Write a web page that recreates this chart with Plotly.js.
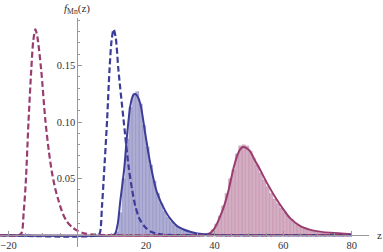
<!DOCTYPE html>
<html><head><meta charset="utf-8">
<script src="https://cdn.plot.ly/plotly-3.0.1.min.js"></script>
<style>html,body{margin:0;padding:0;background:#fff}#c{width:383px;height:252px}</style>
</head><body><div id="c"></div>
<script>
// Dashed curves
const dashPurpleX = [-22.5,-17,-16.2,-15.6,-15.0,-14.2,-13.4,-12.8,-12.2,-11.6,-10.5,-9.3,-8.3,-7.4,-6.4,-5.4,-4.2,-3,-1.5,0,2,5,10,80];
const dashPurpleY = [0,0,0.002,0.02,0.046,0.100,0.146,0.172,0.182,0.175,0.146,0.102,0.075,0.056,0.041,0.030,0.019,0.012,0.007,0.004,0.0015,0.0005,0,0];
const dashBlueX = [-22.5,6,6.6,7.2,7.7,8.7,9.4,10.0,10.6,11.2,12.0,13.5,15.0,16.0,16.9,18.2,19.8,21.5,23.2,26,30,80];
const dashBlueY = [0,0,0.002,0.025,0.049,0.102,0.146,0.172,0.182,0.175,0.146,0.102,0.060,0.040,0.026,0.014,0.007,0.003,0.0013,0.0003,0,0];
// Solid curves
const solidBlueX = [-22.5,10,11,11.8,12.5,13.7,14.5,15.5,16.2,16.8,17.5,18.4,19.8,21.3,23.2,25.7,27.5,29.1,31,32.9,35,38,42,80];
const solidBlueY = [0,0,0.001,0.01,0.029,0.059,0.088,0.115,0.123,0.125,0.123,0.116,0.090,0.063,0.038,0.021,0.013,0.008,0.005,0.003,0.0015,0.0005,0,0];
const solidPurpleX = [-22.5,36,38,38.8,39.8,40.7,41.7,42.7,44.1,45.6,46.7,47.5,48.3,49.3,50.4,51.6,52.9,55.3,58.2,60,62,65,68.9,73.8,80];
const solidPurpleY = [0,0,0.0008,0.002,0.005,0.010,0.017,0.025,0.040,0.060,0.071,0.076,0.078,0.077,0.074,0.067,0.060,0.046,0.031,0.023,0.015,0.008,0.004,0.002,0.0008];
// Histograms (bin left edges, heights)
const blueBins = [11,12,13,14,15,16,17,18,19,20,21,22,23,24,25,26,27,28,29,30,31,32,33,34];
const blueHeights = [0.003,0.02,0.05,0.085,0.113,0.125,0.127,0.116,0.097,0.078,0.062,0.048,0.037,0.028,0.021,0.016,0.012,0.009,0.007,0.005,0.004,0.003,0.002,0.001];
const purpleBins = [38,39,40,41,42,43,44,45,46,47,48,49,50,51,52,53,54,55,56,57,58,59,60,61,62,63,64,65,66,67,68,69,70,71,72,73,74,75,76,77];
const purpleHeights = [0.002,0.005,0.010,0.017,0.026,0.037,0.050,0.058,0.072,0.079,0.080,0.079,0.074,0.068,0.062,0.055,0.049,0.043,0.037,0.032,0.028,0.024,0.020,0.017,0.014,0.011,0.009,0.007,0.006,0.005,0.004,0.003,0.0025,0.002,0.0015,0.0012,0.001,0.0008,0.0006,0.0005];
const xTickVals = [-20,20,40,60,80];
const xTickText = ['\u221220','20','40','60','80'];
const yTickVals = [0.05,0.10,0.15];
const yTickText = ['0.05','0.10','0.15'];

const BLUE = 'rgb(61,61,153)';
const PURPLE = 'rgb(153,61,113)';
const xr = [-22.5, 85], yr = [-0.0105, 0.192];

const traces = [
  {type:'bar', x:blueBins, y:blueHeights, width:1, offset:0,
   marker:{color:'rgba(61,61,153,0.42)', line:{color:'rgba(61,61,153,0.22)', width:0.5}}, hoverinfo:'none'},
  {type:'bar', x:purpleBins, y:purpleHeights, width:1, offset:0,
   marker:{color:'rgba(153,61,113,0.42)', line:{color:'rgba(153,61,113,0.22)', width:0.5}}, hoverinfo:'none'},
  {type:'scatter', mode:'lines', x:solidPurpleX, y:solidPurpleY, line:{color:PURPLE, width:2, shape:'spline', smoothing:0.8}},
  {type:'scatter', mode:'lines', x:solidBlueX, y:solidBlueY, line:{color:BLUE, width:2, shape:'spline', smoothing:0.8}},
  {type:'scatter', mode:'lines', x:dashBlueX, y:dashBlueY, line:{color:BLUE, width:2.2, dash:'6px,3px', shape:'spline', smoothing:0.8}},
  {type:'scatter', mode:'lines', x:dashPurpleX, y:dashPurpleY, line:{color:PURPLE, width:2.2, dash:'6px,3px', shape:'spline', smoothing:0.8}}
];

const SERIF = 'Liberation Serif';
const tickFont = {family:SERIF, size:10.5, color:'#333'};
const layout = {
  width:383, height:252, margin:{l:0, r:14, t:18, b:5},
  paper_bgcolor:'#fff', plot_bgcolor:'#fff', showlegend:false, barmode:'overlay', bargap:0,
  xaxis:{range:xr, anchor:'free', position:(0-yr[0])/(yr[1]-yr[0]), showgrid:false, zeroline:false,
    showline:true, linecolor:'#999', linewidth:1, ticks:'inside', ticklen:4, tickcolor:'#999',
    tickmode:'array', tickvals:xTickVals, ticktext:xTickText, tickfont:tickFont,
    minor:{tickmode:'linear', tick0:0, dtick:5, ticks:'inside', ticklen:2, tickcolor:'#999', showgrid:false}},
  yaxis:{range:yr, anchor:'free', position:(0-xr[0])/(xr[1]-xr[0]), showgrid:false, zeroline:false,
    showline:true, linecolor:'#999', linewidth:1, ticks:'inside', ticklen:4, tickcolor:'#999',
    tickmode:'array', tickvals:yTickVals, ticktext:yTickText, tickfont:tickFont,
    minor:{tickmode:'linear', tick0:0, dtick:0.01, ticks:'inside', ticklen:2, tickcolor:'#999', showgrid:false}},
  annotations:[
    {xref:'x', x:0, yref:'paper', y:1, xanchor:'center', yanchor:'middle', yshift:9, showarrow:false,
     text:'<i>f</i><sub>Mn</sub>(z)', font:{family:SERIF, size:11, color:'#333'}},
    {xref:'x', x:85, yref:'y', y:0, xanchor:'left', yanchor:'middle', xshift:6, showarrow:false,
     text:'z', font:{family:SERIF, size:11, color:'#333'}}
  ]
};
Plotly.newPlot('c', traces, layout, {staticPlot:true, displayModeBar:false});
</script></body></html>
